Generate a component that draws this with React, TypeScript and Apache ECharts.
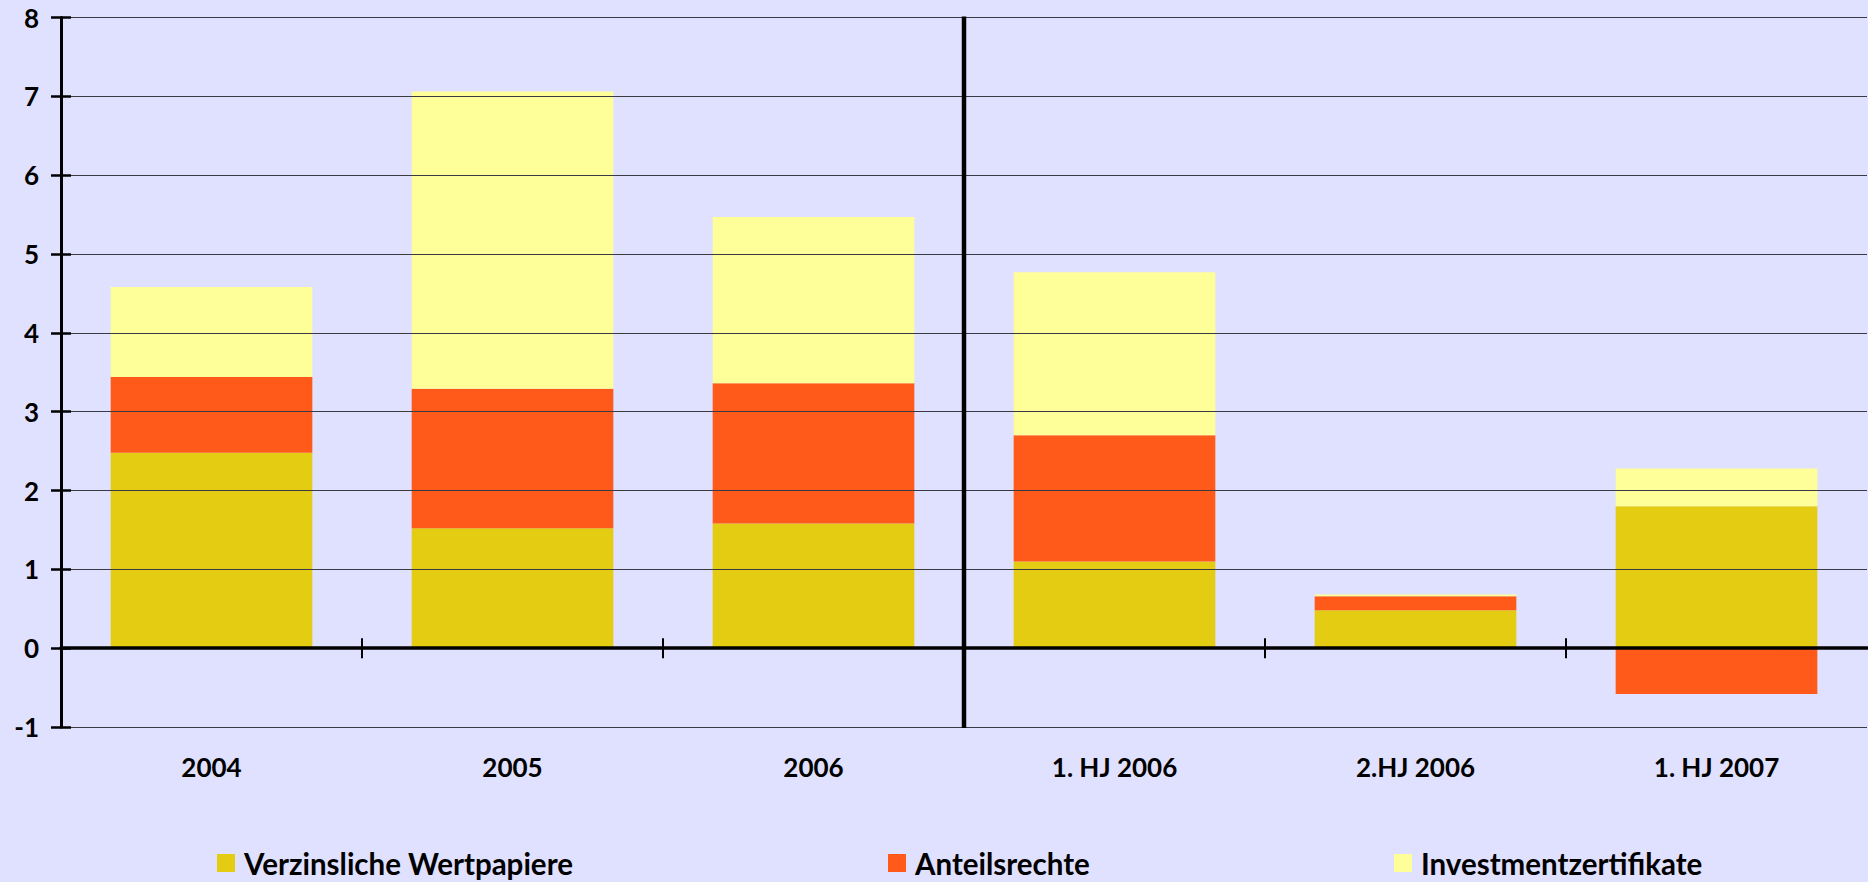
import React, { useEffect, useRef } from "react";
import * as echarts from "echarts";

const categories = ["2004", "2005", "2006", "1. HJ 2006", "2.HJ 2006", "1. HJ 2007"];
const seriesNames = ["Verzinsliche Wertpapiere", "Anteilsrechte", "Investmentzertifikate"];
const verzinsliche = [2.48, 1.52, 1.58, 1.1, 0.48, 1.8];
const anteilsrechte = [0.96, 1.77, 1.78, 1.6, 0.18, -0.58];
const investment = [1.14, 3.77, 2.11, 2.07, 0.02, 0.48];
const seriesValues = [verzinsliche, anteilsrechte, investment];
const colors = ["#E3CC12", "#FF5A1A", "#FFFF99"];
const yMin = -1;
const yMax = 8;
const yStep = 1;
// category indices after which a boundary tick is drawn
const boundaryTicks = [0, 1, 3, 4];
// category index after which the thick divider is drawn
const dividerAfter = [2];

const FONT = "Lato, 'Open Sans', sans-serif";

export default function App() {
  const ref = useRef<HTMLDivElement>(null);
  useEffect(() => {
    document.body.style.margin = "0";
    document.body.style.overflow = "hidden";
    const chart = echarts.init(ref.current!, null, { renderer: "svg" });
    const legendLefts = [217, 888, 1394];
    const option: any = {
      animation: false,
      backgroundColor: "#E0E0FF",
      grid: { left: 61, right: 1, top: 17.5, bottom: 155, containLabel: false },
      legend: seriesNames.map((name, i) => ({
        data: [name],
        left: legendLefts[i],
        top: 848,
        padding: 0,
        itemWidth: 18,
        itemHeight: 18,
        icon: "rect",
        selectedMode: false,
        textStyle: { fontFamily: FONT, fontWeight: "bold", fontSize: 29.5, color: "#000", padding: [0, 0, 0, 4] },
      })),
      xAxis: {
        type: "category",
        data: categories,
        z: 5,
        axisLine: { show: true, onZero: true, lineStyle: { color: "#000", width: 3.5 } },
        axisTick: { show: false },
        axisLabel: {
          interval: 0,
          margin: 27,
          fontFamily: FONT,
          fontWeight: "bold",
          fontSize: 26,
          color: "#000",
        },
        splitLine: { show: false },
      },
      yAxis: [
        {
          type: "value",
          min: yMin,
          max: yMax,
          interval: yStep,
          position: "left",
          z: 5,
          axisLine: { show: true, lineStyle: { color: "#000", width: 3 } },
          axisTick: { show: true, inside: false, length: 10, lineStyle: { color: "#000", width: 2.5 } },
          axisLabel: { margin: 22, fontFamily: FONT, fontWeight: "bold", fontSize: 26, color: "#000" },
          splitLine: { show: true, lineStyle: { color: "#3a3a44", width: 1 } },
        },
        {
          type: "value",
          min: yMin,
          max: yMax,
          interval: yStep,
          position: "left",
          z: 5,
          axisLine: { show: false },
          axisTick: { show: true, inside: true, length: 10, lineStyle: { color: "#000", width: 2.5 } },
          axisLabel: { show: false },
          splitLine: { show: false },
        },
      ],
      series: [
        ...seriesNames.map((name, i) => ({
          name,
          type: "bar",
          stack: "total",
          yAxisIndex: 0,
          barWidth: "67%",
          itemStyle: { color: colors[i] },
          data: seriesValues[i],
        })),
        {
          type: "custom",
          yAxisIndex: 0,
          silent: true,
          z: 6,
          data: boundaryTicks.map((i) => [i, 0]),
          renderItem: (params: any, api: any) => {
            const c = api.coord([api.value(0), 0]);
            const half = api.size([1, 0])[0] / 2;
            const x = c[0] + half;
            return {
              type: "line",
              shape: { x1: x, y1: c[1] - 10, x2: x, y2: c[1] + 10 },
              style: { stroke: "#000", lineWidth: 2 },
            };
          },
        },
        {
          type: "custom",
          yAxisIndex: 0,
          silent: true,
          z: 6,
          data: dividerAfter.map((i) => [i, yMax]),
          renderItem: (params: any, api: any) => {
            const top = api.coord([api.value(0), yMax]);
            const bottom = api.coord([api.value(0), yMin]);
            const half = api.size([1, 0])[0] / 2;
            const x = top[0] + half;
            return {
              type: "line",
              shape: { x1: x, y1: top[1] - 1, x2: x, y2: bottom[1] + 1 },
              style: { stroke: "#000", lineWidth: 4.5 },
            };
          },
        },
      ],
    };
    chart.setOption(option);
    return () => chart.dispose();
  }, []);
  return <div ref={ref} style={{ width: 1868, height: 882 }} />;
}
